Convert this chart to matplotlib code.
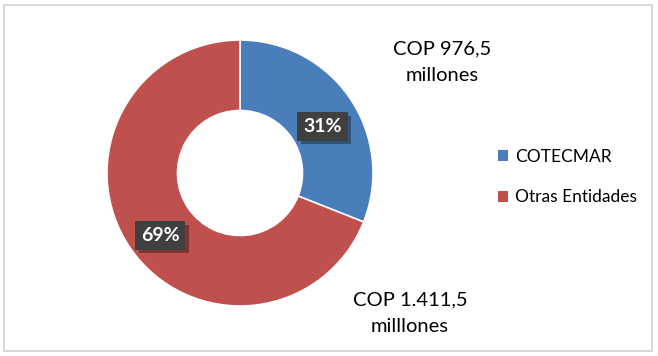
import matplotlib
matplotlib.use('Agg')
import matplotlib.pyplot as plt
import matplotlib.patheffects as pe
from matplotlib.patches import Rectangle

# datos
categorias = ['COTECMAR', 'Otras Entidades']
valores = [31, 69]
etiquetas_pct = ['31%', '69%']
montos = ['COP 976,5\nmillones', 'COP 1.411,5\nmilllones']
colores = ['#4A7EBB', '#C0504D']

plt.rcParams['font.family'] = ['Lato', 'DejaVu Sans']

fig = plt.figure(figsize=(6.58, 3.56), dpi=100)
fig.patch.set_facecolor('white')

# borde del grafico
fig.patches.append(Rectangle((4 / 658, 5 / 356), 648 / 658, 346 / 356,
                             transform=fig.transFigure, fill=False,
                             edgecolor='#D0D0D0', linewidth=1.2))

# dona
ax = fig.add_axes([(240 - 133) / 658, (183 - 133) / 356, 266 / 658, 266 / 356])
wedges, _ = ax.pie(valores, colors=colores, startangle=90, counterclock=False,
                   radius=1, wedgeprops=dict(width=0.53, edgecolor='white', linewidth=1.2))
ax.set_xlim(-1, 1)
ax.set_ylim(-1, 1)

# etiquetas de porcentaje
pos_pct = [(0.62, 0.35), (-0.6, -0.47)]
for (x, y), t in zip(pos_pct, etiquetas_pct):
    txt = ax.text(x, y, t, ha='center', va='center', color='white', fontsize=14,
                  fontweight='bold',
                  bbox=dict(boxstyle='square,pad=0.3', facecolor='#404040', edgecolor='none'))
    txt.get_bbox_patch().set_path_effects([
        pe.SimplePatchShadow(offset=(2.5, -2.5), shadow_rgbFace='black', alpha=0.35),
        pe.Normal()])

# montos
fig.text(442 / 658, 1 - 62 / 356, montos[0], ha='center', va='center',
         fontsize=14.5, color='black', linespacing=1.7)
fig.text(410 / 658, 1 - 313 / 356, montos[1], ha='center', va='center',
         fontsize=14.5, color='black', linespacing=1.7)

# leyenda
handles = [Rectangle((0, 0), 1, 1, facecolor=c) for c in colores]
fig.legend(handles, categorias, loc='center left',
           bbox_to_anchor=(482 / 658, 1 - 177 / 356), frameon=False,
           fontsize=12.5, handlelength=0.6, handleheight=0.6, handletextpad=0.4,
           labelspacing=1.4)

fig.savefig('out.png', dpi=100)
